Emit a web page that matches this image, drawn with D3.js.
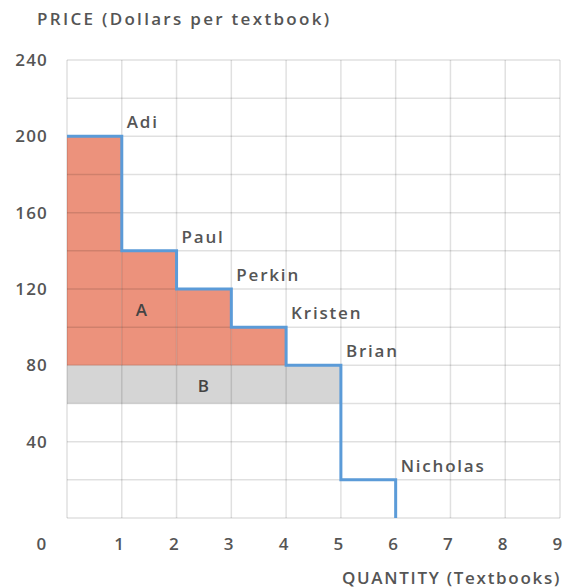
<!DOCTYPE html>
<html>
<head>
  <style>
    body { margin: 0; background: #fff; }
    text { font-family: "Open Sans", sans-serif; font-weight: 600; fill: #555; letter-spacing: 1.2px; }
  </style>
</head>
<body>
  <script src="https://d3js.org/d3.v7.min.js"></script>
  <script>
    var width = 565, height = 588;

    // demand steps: buyer, willingness to pay (each buys one textbook)
    var buyers = ["Adi", "Paul", "Perkin", "Kristen", "Brian", "Nicholas"];
    var prices = [200, 140, 120, 100, 80, 20];
    var xTicks = [0, 1, 2, 3, 4, 5, 6, 7, 8, 9];
    var yTicks = [40, 80, 120, 160, 200, 240];
    var priceNew = 80, priceOld = 60;

    var margin = {left: 67, right: 5, top: 60, bottom: 70};
    var x = d3.scaleLinear().domain([0, 9]).range([margin.left, width - margin.right]);
    var y = d3.scaleLinear().domain([0, 240]).range([height - margin.bottom, margin.top]);

    var svg = d3.select("body").append("svg")
        .attr("width", width)
        .attr("height", height);

    // area B (grey)
    svg.append("rect")
        .attr("x", x(0)).attr("y", y(priceNew))
        .attr("width", x(5) - x(0)).attr("height", y(priceOld) - y(priceNew))
        .attr("fill", "#d5d5d5");

    // area A (orange)
    svg.selectAll("rect.a")
        .data(prices.filter(p => p > priceNew))
      .enter().append("rect")
        .attr("class", "a")
        .attr("x", (d, i) => x(i))
        .attr("y", d => y(d))
        .attr("width", x(1) - x(0))
        .attr("height", d => y(priceNew) - y(d))
        .attr("fill", "#ec927c");

    // grid
    svg.append("g").selectAll("line")
        .data(d3.range(0, 260, 20))
      .enter().append("line")
        .attr("x1", x(0)).attr("x2", x(9))
        .attr("y1", d => y(d)).attr("y2", d => y(d))
        .attr("stroke", "#000").attr("stroke-opacity", 0.12).attr("stroke-width", 1.5);
    svg.append("g").selectAll("line")
        .data(xTicks)
      .enter().append("line")
        .attr("y1", y(0)).attr("y2", y(240))
        .attr("x1", d => x(d)).attr("x2", d => x(d))
        .attr("stroke", "#000").attr("stroke-opacity", 0.12).attr("stroke-width", 1.5);

    // demand step line
    var pts = [];
    prices.forEach((p, i) => { pts.push([i, p]); pts.push([i + 1, p]); });
    pts.push([prices.length, 0]);
    svg.append("path")
        .attr("d", d3.line().x(d => x(d[0])).y(d => y(d[1]))(pts))
        .attr("fill", "none")
        .attr("stroke", "#5b9bd8")
        .attr("stroke-width", 3);

    // buyer labels
    svg.selectAll("text.buyer")
        .data(buyers)
      .enter().append("text")
        .attr("class", "buyer")
        .attr("x", (d, i) => x(i + 1) + 5)
        .attr("y", (d, i) => y(prices[i]) - 8)
        .attr("font-size", 17)
        .style("letter-spacing", "1.8px")
        .text(d => d);

    svg.append("text").attr("x", 142).attr("y", 316).attr("text-anchor", "middle")
        .attr("font-size", 17).style("fill", "#444").text("A");
    svg.append("text").attr("x", (x(2) + x(3)) / 2).attr("y", 392).attr("text-anchor", "middle")
        .attr("font-size", 17).style("fill", "#444").text("B");

    // tick labels
    svg.selectAll("text.ytick")
        .data(yTicks)
      .enter().append("text")
        .attr("x", 48).attr("y", d => y(d) + 6)
        .attr("text-anchor", "end").attr("font-size", 17)
        .text(d => d);
    svg.selectAll("text.xtick")
        .data(xTicks)
      .enter().append("text")
        .attr("x", d => d === 0 ? 42 : x(d) - 2).attr("y", 550)
        .attr("text-anchor", "middle").attr("font-size", 17)
        .text(d => d);

    svg.append("text").attr("x", 37).attr("y", 25).attr("font-size", 17)
        .style("letter-spacing", "2.3px")
        .text("PRICE (Dollars per textbook)");
    svg.append("text").attr("x", 561).attr("y", 584).attr("text-anchor", "end").attr("font-size", 17)
        .style("letter-spacing", "1.7px")
        .text("QUANTITY (Textbooks)");
  </script>
</body>
</html>
